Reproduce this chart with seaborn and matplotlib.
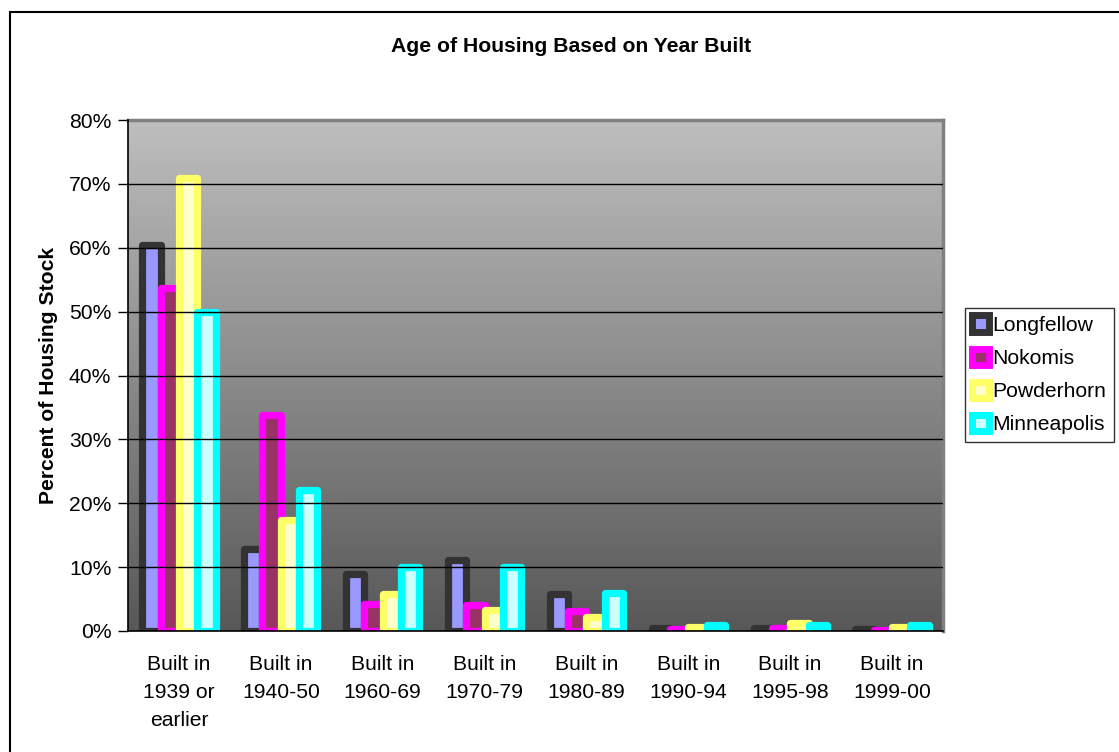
import numpy as np
import pandas as pd
import matplotlib
matplotlib.use("Agg")
import matplotlib.pyplot as plt
import seaborn as sns
from matplotlib.patches import Patch, Rectangle

categories = ["Built in\n1939 or\nearlier", "Built in\n1940-50", "Built in\n1960-69", "Built in\n1970-79",
              "Built in\n1980-89", "Built in\n1990-94", "Built in\n1995-98", "Built in\n1999-00"]
series = ["Longfellow", "Nokomis", "Powderhorn", "Minneapolis"]
longfellow = [60.5, 12.8, 8.9, 11.1, 5.8, 0.5, 0.4, 0.3]
nokomis = [53.7, 33.8, 4.2, 4.0, 3.1, 0.3, 0.4, 0.2]
powderhorn = [70.9, 17.4, 5.8, 3.3, 2.2, 0.6, 1.2, 0.6]
minneapolis = [50.0, 22.0, 10.0, 10.0, 6.0, 1.0, 1.0, 1.0]
yticks = [0, 10, 20, 30, 40, 50, 60, 70, 80]

fills = ["#9999FF", "#993366", "#FFFFCC", "#CCFFFF"]
edges = ["#333333", "#FF00FF", "#FFFF66", "#00FFFF"]

sns.set_style("white")
plt.rcParams['font.family'] = ['Liberation Sans', 'DejaVu Sans']
plt.rcParams['text.color'] = 'black'
plt.rcParams['axes.labelcolor'] = 'black'
plt.rcParams['xtick.color'] = 'black'
plt.rcParams['ytick.color'] = 'black'

FS = 15.2

df = pd.DataFrame({
    "cat": categories * 4,
    "series": np.repeat(series, len(categories)),
    "val": longfellow + nokomis + powderhorn + minneapolis,
})

fig = plt.figure(figsize=(11.19, 7.52), dpi=100)
fig.patch.set_facecolor("white")
ax = fig.add_axes([128/1119, 1-631/752, (943-128)/1119, (631-120)/752])

sns.barplot(data=df, x="cat", y="val", hue="series", hue_order=series, order=categories,
            palette=fills, width=0.72, ax=ax, legend=False, saturation=1, errorbar=None)

for cont, ec in zip(ax.containers, edges):
    for p in cont:
        p.set_edgecolor(ec)
        p.set_linewidth(5.2)
        p.set_joinstyle("round")
        p.set_zorder(2)

# gradient background
grad = np.linspace(0, 1, 256).reshape(-1, 1)
cmap = matplotlib.colors.LinearSegmentedColormap.from_list("g", ["#BEBEBE", "#585858"])
ax.imshow(grad, cmap=cmap, aspect="auto", extent=[0, 1, 0, 1], transform=ax.transAxes,
          zorder=0, origin="upper")
ax.set_xlim(-0.5, len(categories) - 0.5)
ax.set_ylim(0, 80)

ax.set_yticks(yticks)
ax.set_yticklabels([f"{v}%" for v in yticks], fontsize=FS)
ax.yaxis.grid(True, color="black", linewidth=1.0)
ax.set_axisbelow(False)
gls = ax.yaxis.get_gridlines()
for gl in gls:
    gl.set_zorder(1)
gls[-1].set_visible(False)

ax.set_xticks(range(len(categories)))
ax.set_xticklabels(categories, fontsize=FS, linespacing=1.6)
ax.set_xticks(np.arange(-0.5, len(categories), 1), minor=True)
ax.tick_params(axis="x", which="major", length=0, pad=17)
ax.tick_params(axis="x", which="minor", length=7, width=1, color="black", direction="out")
ax.tick_params(axis="y", length=7, width=1, color="black", direction="out", left=True, pad=5)

ax.set_xlabel("")
ax.set_ylabel("Percent of Housing Stock", fontsize=FS, fontweight="bold", labelpad=8)

for s in ["left", "bottom"]:
    ax.spines[s].set_color("black")
    ax.spines[s].set_linewidth(1.2)
    ax.spines[s].set_zorder(3)
for s in ["top", "right"]:
    ax.spines[s].set_color("#808080")
    ax.spines[s].set_linewidth(2.5)

fig.text(571/1119, 1-46/752, "Age of Housing Based on Year Built", ha="center", va="center",
         fontsize=FS, fontweight="bold")

handles = [Patch(facecolor=f, edgecolor=e, linewidth=5, label=s) for f, e, s in zip(fills, edges, series)]
leg = fig.legend(handles=handles, loc="upper left", bbox_to_anchor=(965/1119, 1-308/752),
                 fontsize=FS, frameon=True, fancybox=False, handlelength=0.8, handleheight=0.8,
                 handletextpad=0.15, borderpad=0.35, labelspacing=0.65, borderaxespad=0)
leg.get_frame().set_edgecolor("black")
leg.get_frame().set_linewidth(1.0)

fig.patches.append(Rectangle((10/1119, -0.1), 1.2, 1.1 - 12/752, transform=fig.transFigure,
                             fill=False, edgecolor="black", linewidth=1.5, clip_on=False))

fig.savefig("out.png", dpi=100)
